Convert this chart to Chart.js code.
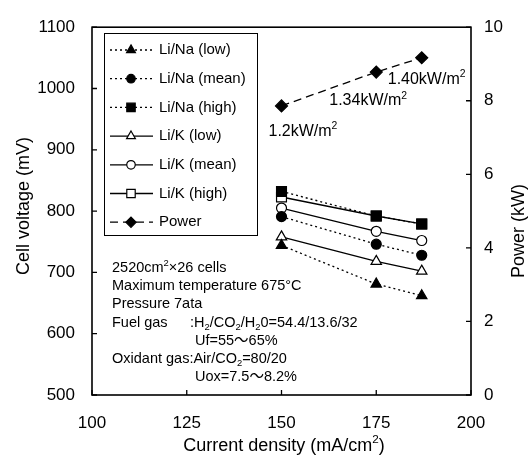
<!DOCTYPE html>
<html>
<head>
<meta charset="utf-8">
<script src="https://cdn.jsdelivr.net/npm/chart.js@4.4.1/dist/chart.umd.min.js"></script>
<style>
  html, body { margin: 0; padding: 0; background: #fff; }
  #wrap { width: 531px; height: 460px; }
</style>
</head>
<body>
<div id="wrap"><canvas id="chart" width="531" height="460"></canvas></div>
<script>
// data
var currentDensity = [150, 175, 187];
var naLow  = [744, 681, 662];
var naMean = [791, 746, 728];
var naHigh = [832, 792, 779];
var kLow   = [758, 718, 702];
var kMean  = [805, 767, 752];
var kHigh  = [823, 792, 779];
var powerKW = [7.86, 8.78, 9.17];
var powerLabels = ['1.2kW/m^2', '1.34kW/m^2', '1.40kW/m^2'];

var xTicks  = [100, 125, 150, 175, 200];
var yTicks  = [500, 600, 700, 800, 900, 1000, 1100];
var y2Ticks = [0, 2, 4, 6, 8, 10];

// ^ = superscript next char, _ = subscript next char
var notes = [
  ['2520cm^2×26 cells', ''],
  ['Maximum temperature 675°C', ''],
  ['Pressure 7ata', ''],
  ['Fuel gas', ':H_2/CO_2/H_20=54.4/13.6/32'],
  ['', 'Uf=55～65%'],
  ['Oxidant gas:Air/CO_2=80/20', ''],
  ['', 'Uox=7.5～8.2%']
];

var FONT = '"Liberation Sans", Arial, "Noto Sans CJK JP", sans-serif';
var DOTS = [2, 3];
var DASH = [8, 5];

function pts(ys) {
  return ys.map(function(v, i) { return { x: currentDensity[i], y: v }; });
}

function series(label, ys, style, filled, dash, r) {
  return {
    label: label,
    data: pts(ys),
    borderColor: '#000',
    borderWidth: 1.3,
    borderDash: dash,
    pointStyle: style,
    pointRadius: r,
    pointBorderWidth: 1.2,
    pointBorderColor: '#000',
    pointBackgroundColor: filled ? '#000' : '#fff',
    tension: 0,
    fill: false
  };
}

// draws text with ^sup and _sub markers
function richWidth(ctx, txt, size) {
  var w = 0;
  for (var i = 0; i < txt.length; i++) {
    var c = txt[i];
    if ((c === '^' || c === '_') && i + 1 < txt.length) {
      ctx.font = (size * 0.65) + 'px ' + FONT;
      w += ctx.measureText(txt[i + 1]).width;
      i++;
    } else {
      ctx.font = size + 'px ' + FONT;
      w += ctx.measureText(c).width;
    }
  }
  return w;
}

function drawRich(ctx, txt, x, y, size, align) {
  if (align === 'center') x -= richWidth(ctx, txt, size) / 2;
  ctx.textAlign = 'left';
  ctx.textBaseline = 'middle';
  ctx.fillStyle = '#000';
  for (var i = 0; i < txt.length; i++) {
    var c = txt[i];
    if ((c === '^' || c === '_') && i + 1 < txt.length) {
      var s = txt[i + 1];
      ctx.font = (size * 0.65) + 'px ' + FONT;
      ctx.fillText(s, x, c === '^' ? y - size * 0.33 : y + size * 0.3);
      x += ctx.measureText(s).width;
      i++;
    } else {
      ctx.font = size + 'px ' + FONT;
      ctx.fillText(c, x, y);
      x += ctx.measureText(c).width;
    }
  }
}

function drawMarker(ctx, style, x, y, r, fillColor) {
  ctx.beginPath();
  if (style === 'circle') {
    ctx.arc(x, y, r, 0, Math.PI * 2);
  } else if (style === 'triangle') {
    ctx.moveTo(x, y - r);
    ctx.lineTo(x + r * 0.866, y + r * 0.5);
    ctx.lineTo(x - r * 0.866, y + r * 0.5);
    ctx.closePath();
  } else if (style === 'rect') {
    var s = r * Math.SQRT1_2;
    ctx.rect(x - s, y - s, 2 * s, 2 * s);
  } else {
    ctx.moveTo(x - r, y);
    ctx.lineTo(x, y - r);
    ctx.lineTo(x + r, y);
    ctx.lineTo(x, y + r);
    ctx.closePath();
  }
  ctx.fillStyle = fillColor;
  ctx.fill();
  ctx.setLineDash([]);
  ctx.lineWidth = 1.2;
  ctx.strokeStyle = '#000';
  ctx.stroke();
}

// frame + inward ticks
var framePlugin = {
  id: 'frame',
  beforeDatasetsDraw: function(chart) {
    var ctx = chart.ctx, a = chart.chartArea, sc = chart.scales;
    ctx.save();
    ctx.strokeStyle = '#000';
    ctx.lineWidth = 1.6;
    ctx.setLineDash([]);
    ctx.strokeRect(a.left, a.top, a.right - a.left, a.bottom - a.top);
    ctx.lineWidth = 1.3;
    ctx.beginPath();
    xTicks.forEach(function(v) {
      var px = sc.x.getPixelForValue(v);
      ctx.moveTo(px, a.bottom); ctx.lineTo(px, a.bottom - 5);
    });
    yTicks.forEach(function(v) {
      var py = sc.y.getPixelForValue(v);
      ctx.moveTo(a.left, py); ctx.lineTo(a.left + 5, py);
    });
    y2Ticks.forEach(function(v) {
      var py = sc.y2.getPixelForValue(v);
      ctx.moveTo(a.right, py); ctx.lineTo(a.right - 5, py);
    });
    ctx.stroke();
    ctx.restore();
  }
};

// legend box, notes, axis titles, power labels
var extrasPlugin = {
  id: 'extras',
  afterDraw: function(chart) {
    var ctx = chart.ctx;
    ctx.save();

    // legend
    ctx.fillStyle = '#fff';
    ctx.fillRect(104, 33, 153, 202);
    ctx.strokeStyle = '#000';
    ctx.lineWidth = 1;
    ctx.setLineDash([]);
    ctx.strokeRect(104.5, 33.5, 153, 202);
    chart.data.datasets.forEach(function(ds, i) {
      var ly = 50 + i * 28.7;
      ctx.beginPath();
      ctx.setLineDash(ds.borderDash || []);
      ctx.lineWidth = 1.3;
      ctx.strokeStyle = '#000';
      ctx.moveTo(110, ly);
      ctx.lineTo(153, ly);
      ctx.stroke();
      drawMarker(ctx, ds.pointStyle, 131, ly, ds.pointRadius * 0.85, ds.pointBackgroundColor);
      drawRich(ctx, ds.label, 159, ly, 15, 'left');
    });

    // notes
    notes.forEach(function(row, i) {
      var ny = 268 + i * 18.2;
      if (row[0]) drawRich(ctx, row[0], 112, ny, 14.5, 'left');
      if (row[1]) drawRich(ctx, row[1], row[0] ? 190 : 195, ny, 14.5, 'left');
    });

    // power labels, anchored to their points
    var meta = chart.getDatasetMeta(6);
    var offs = [[-13, 26], [-47, 29], [-34, 22]];
    meta.data.forEach(function(p, i) {
      drawRich(ctx, powerLabels[i], p.x + offs[i][0], p.y + offs[i][1], 16, 'left');
    });

    // axis titles
    drawRich(ctx, 'Current density (mA/cm^2)', 284, 446, 18, 'center');
    ctx.save();
    ctx.translate(24, 206);
    ctx.rotate(-Math.PI / 2);
    drawRich(ctx, 'Cell voltage (mV)', 0, 0, 18, 'center');
    ctx.restore();
    ctx.save();
    ctx.translate(519, 231);
    ctx.rotate(-Math.PI / 2);
    drawRich(ctx, 'Power (kW)', 0, 0, 18, 'center');
    ctx.restore();

    ctx.restore();
  }
};

var tickFont = { family: FONT, size: 17 };
function plain(v) { return String(v); }

new Chart(document.getElementById('chart'), {
  type: 'line',
  data: {
    datasets: [
      series('Li/Na (low)',  naLow,  'triangle', true,  DOTS, 6),
      series('Li/Na (mean)', naMean, 'circle',   true,  DOTS, 5),
      series('Li/Na (high)', naHigh, 'rect',     true,  DOTS, 7),
      series('Li/K (low)',   kLow,   'triangle', false, [],   6),
      series('Li/K (mean)',  kMean,  'circle',   false, [],   5),
      series('Li/K (high)',  kHigh,  'rect',     false, [],   7),
      Object.assign(series('Power', powerKW, 'rectRot', true, DASH, 6), { yAxisID: 'y2' })
    ]
  },
  options: {
    responsive: false,
    animation: false,
    devicePixelRatio: 1,
    layout: { padding: { top: 19, left: 0, right: 0, bottom: 0 } },
    plugins: {
      legend: { display: false },
      tooltip: { enabled: false }
    },
    scales: {
      x: {
        type: 'linear',
        min: 100, max: 200,
        afterBuildTicks: function(s) { s.ticks = xTicks.map(function(v) { return { value: v }; }); },
        afterFit: function(s) { s.height = 65; },
        grid: { display: false, drawTicks: false },
        border: { display: false },
        ticks: { font: tickFont, color: '#000', padding: 18, maxRotation: 0, callback: plain }
      },
      y: {
        position: 'left',
        min: 500, max: 1100,
        afterBuildTicks: function(s) { s.ticks = yTicks.map(function(v) { return { value: v }; }); },
        afterFit: function(s) { s.width = 92; },
        grid: { display: false, drawTicks: false },
        border: { display: false },
        ticks: { font: tickFont, color: '#000', padding: 17, callback: plain }
      },
      y2: {
        position: 'right',
        min: 0, max: 10,
        afterBuildTicks: function(s) { s.ticks = y2Ticks.map(function(v) { return { value: v }; }); },
        afterFit: function(s) { s.width = 60; },
        grid: { display: false, drawTicks: false },
        border: { display: false },
        ticks: { font: tickFont, color: '#000', padding: 13, callback: plain }
      }
    }
  },
  plugins: [framePlugin, extrasPlugin]
});
</script>
</body>
</html>
